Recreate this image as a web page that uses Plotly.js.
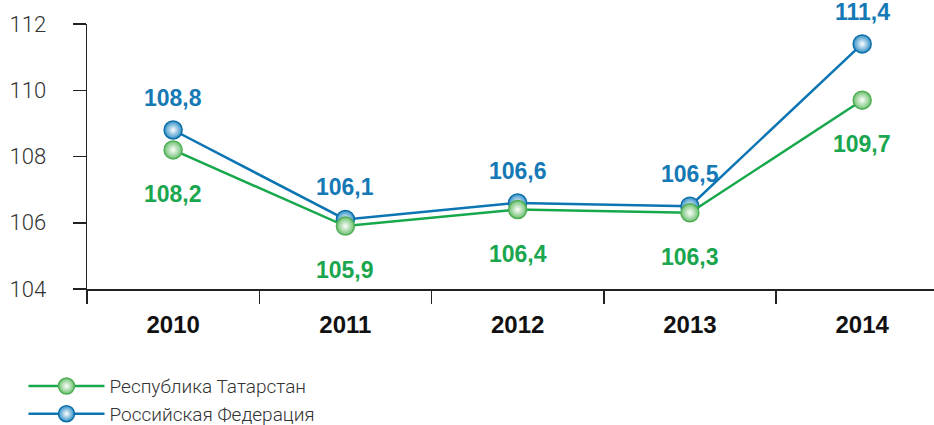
<!DOCTYPE html>
<html>
<head>
<meta charset="utf-8">
<script src="https://cdn.plot.ly/plotly-3.0.1.min.js"></script>
<style>html,body{margin:0;padding:0;background:#fff;}#chart{width:934px;height:425px;}</style>
</head>
<body>
<div id="chart"></div>
<script>
var years = ['2010', '2011', '2012', '2013', '2014'];
var tatarstan = [108.2, 105.9, 106.4, 106.3, 109.7];
var russia = [108.8, 106.1, 106.6, 106.5, 111.4];
var seriesNames = ['Республика Татарстан', 'Российская Федерация'];
var yTicks = [104, 106, 108, 110, 112];

var xIdx = years.map(function (_, i) { return i; });
var blue = '#0b74b2';
var green = '#17a84c';
function fmt(v) { return v.toFixed(1).replace('.', ','); }

var traceRussia = {
  x: xIdx, y: russia, name: seriesNames[1], type: 'scatter', mode: 'lines+markers',
  line: {color: blue, width: 2.5},
  marker: {size: 18, color: '#2f8fc6', line: {color: '#0d6ea8', width: 1.5},
           gradient: {type: 'radial', color: '#ffffff'}},
  cliponaxis: false, hoverinfo: 'skip'
};
var traceTat = {
  x: xIdx, y: tatarstan, name: seriesNames[0], type: 'scatter', mode: 'lines+markers',
  line: {color: green, width: 2.5},
  marker: {size: 18, color: '#6cc06f', line: {color: '#4fae55', width: 1.5},
           gradient: {type: 'radial', color: '#ffffff'}},
  cliponaxis: false, hoverinfo: 'skip'
};

var labelFont = {family: 'Liberation Sans, Arial, sans-serif', size: 23, weight: 'bold'};
var annotations = [];
xIdx.forEach(function (i) {
  annotations.push({x: i, y: russia[i], xref: 'x', yref: 'y', text: fmt(russia[i]),
    showarrow: false, yshift: 32, xanchor: 'center', yanchor: 'middle',
    font: Object.assign({}, labelFont, {color: '#1479b5'})});
  annotations.push({x: i, y: tatarstan[i], xref: 'x', yref: 'y', text: fmt(tatarstan[i]),
    showarrow: false, yshift: -44, xanchor: 'center', yanchor: 'middle',
    font: Object.assign({}, labelFont, {color: '#19a64e'})});
});

var layout = {
  width: 934, height: 425,
  margin: {l: 87, r: 0, t: 24, b: 136, autoexpand: false},
  paper_bgcolor: '#fff', plot_bgcolor: '#fff',
  showlegend: true,
  annotations: annotations,
  legend: {
    x: -0.075, y: -0.295, xanchor: 'left', yanchor: 'top',
    traceorder: 'reversed', itemwidth: 76, tracegroupgap: 0,
    font: {family: 'Roboto, sans-serif', size: 19, color: '#333', weight: 300},
    bgcolor: 'rgba(0,0,0,0)'
  },
  xaxis: {
    range: [-0.5, 4.417], tickmode: 'array', tickvals: xIdx, ticktext: years,
    ticks: '', showgrid: false, zeroline: false,
    showline: true, linecolor: '#222', linewidth: 1.5,
    tickfont: {family: 'Liberation Sans, Arial, sans-serif', size: 24, color: '#111', weight: 'bold'},
    ticklabelstandoff: 14,
    minor: {tickmode: 'linear', tick0: -0.5, dtick: 1, ticks: 'outside', ticklen: 13,
            tickcolor: '#222', tickwidth: 1.5, showgrid: false}
  },
  yaxis: {
    range: [104, 112], tickmode: 'array', tickvals: yTicks,
    ticks: 'outside', ticklen: 13, tickcolor: '#222', tickwidth: 1.5,
    showgrid: false, zeroline: false,
    showline: true, linecolor: '#222', linewidth: 1.5,
    tickfont: {family: 'Roboto, sans-serif', size: 22, color: '#333', weight: 300},
    ticklabelstandoff: 22
  }
};

Plotly.newPlot('chart', [traceRussia, traceTat], layout, {displayModeBar: false, staticPlot: true});
</script>
</body>
</html>
